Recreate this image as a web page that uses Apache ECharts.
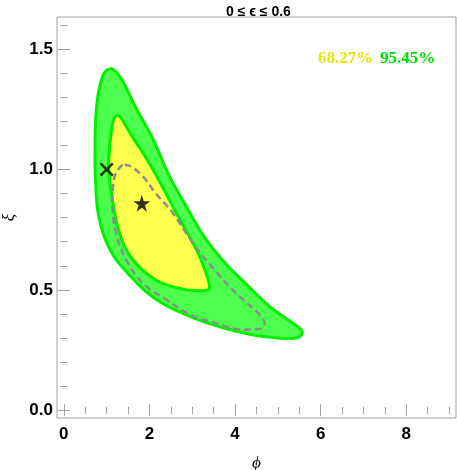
<!DOCTYPE html>
<html>
<head>
<meta charset="utf-8">
<script src="https://cdn.jsdelivr.net/npm/echarts@6/dist/echarts.min.js"></script>
<style>
  html, body { margin: 0; padding: 0; background: #fff; }
  #main { width: 457px; height: 470px; }
</style>
</head>
<body>
<div id="main"></div>
<script>
// ticks
const xMajorTicks = [0, 2, 4, 6, 8];
const xMinorTicks = [0.5, 1, 1.5, 2.5, 3, 3.5, 4.5, 5, 5.5, 6.5, 7, 7.5, 8.5, 9];
const yMajorTicks = [0, 0.5, 1, 1.5];
const yMinorTicks = [0.1, 0.2, 0.3, 0.4, 0.6, 0.7, 0.8, 0.9, 1.1, 1.2, 1.3, 1.4, 1.6];

// contours, [phi, xi]
const contour95 = [
  [1.11, 1.418], [1.22, 1.405], [1.38, 1.365], [1.70, 1.25], [2.09, 1.123],
  [2.43, 0.985], [2.86, 0.846], [3.30, 0.715], [3.75, 0.615], [4.27, 0.522],
  [4.81, 0.43], [5.28, 0.37], [5.56, 0.33], [5.50, 0.305], [5.20, 0.298],
  [4.89, 0.302], [4.34, 0.316], [3.64, 0.347], [2.94, 0.39], [2.16, 0.46],
  [1.54, 0.56], [1.07, 0.67], [0.82, 0.80], [0.74, 0.95], [0.73, 1.10],
  [0.74, 1.20], [0.80, 1.31], [0.91, 1.39], [1.01, 1.413]
];
const contour68 = [
  [1.26, 1.225], [1.33, 1.215], [1.42, 1.19], [1.62, 1.13], [1.88, 1.06],
  [2.16, 0.975], [2.63, 0.818], [3.10, 0.666], [3.29, 0.585], [3.40, 0.52],
  [3.37, 0.50], [3.10, 0.497], [2.78, 0.503], [2.16, 0.54], [1.61, 0.625],
  [1.30, 0.735], [1.14, 0.87], [1.05, 1.0], [1.07, 1.095], [1.11, 1.155],
  [1.15, 1.20], [1.20, 1.218]
];
const contourDashed = [
  [1.42, 1.02], [1.77, 0.985], [2.15, 0.90], [2.55, 0.818], [3.02, 0.693],
  [3.49, 0.589], [4.03, 0.485], [4.50, 0.41], [4.68, 0.37], [4.66, 0.345],
  [4.50, 0.337], [4.03, 0.337], [3.50, 0.365], [3.00, 0.393], [2.40, 0.458],
  [1.85, 0.527], [1.46, 0.624], [1.22, 0.735], [1.13, 0.85], [1.15, 0.93],
  [1.22, 0.985]
];

// markers
const bestFit = [[1.82, 0.86]];
const refPoint = [[1.0, 1.0]];

const levelLabels = ['68.27%', '95.45%'];

const frameColor = '#a0a0a0';
const labelFont = { color: '#000', fontFamily: 'Liberation Sans', fontWeight: 'bold', fontSize: 17 };

function xAxisDef(position, ticks, len, labels) {
  return {
    type: 'value', min: -0.16, max: 9.16, position: position,
    axisLine: { show: false },
    splitLine: { show: false },
    axisTick: { show: true, inside: true, length: len, customValues: ticks,
      lineStyle: { color: frameColor } },
    axisLabel: labels ? Object.assign({ show: true, margin: 8, customValues: ticks,
      formatter: v => String(v) }, labelFont) : { show: false }
  };
}
function yAxisDef(position, ticks, len, labels) {
  return {
    type: 'value', min: -0.032, max: 1.633, position: position,
    axisLine: { show: false },
    splitLine: { show: false },
    axisTick: { show: true, inside: true, length: len, customValues: ticks,
      lineStyle: { color: frameColor } },
    axisLabel: labels ? Object.assign({ show: true, margin: 4, customValues: ticks,
      formatter: v => v.toFixed(1) }, labelFont) : { show: false }
  };
}

function polygonItem(pts, style) {
  return function (params, api) {
    const points = pts.map(p => api.coord(p));
    return { type: 'polygon', shape: { points: points, smooth: 0.4 }, style: style };
  };
}

const xAxes = [
  xAxisDef('bottom', xMajorTicks, 6, true),
  xAxisDef('bottom', xMinorTicks, 3.5, false),
  xAxisDef('top', xMajorTicks, 6, false),
  xAxisDef('top', xMinorTicks, 3.5, false)
];
xAxes[0].name = 'ϕ';
xAxes[0].nameLocation = 'middle';
xAxes[0].nameGap = 37;
xAxes[0].nameTextStyle = { fontFamily: 'Liberation Serif', fontStyle: 'italic', fontSize: 17, color: '#000' };

const yAxes = [
  yAxisDef('left', yMajorTicks, 6, true),
  yAxisDef('left', yMinorTicks, 3.5, false),
  yAxisDef('right', yMajorTicks, 6, false),
  yAxisDef('right', yMinorTicks, 3.5, false)
];
yAxes[0].name = 'ξ';
yAxes[0].nameLocation = 'middle';
yAxes[0].nameGap = 39;
yAxes[0].nameTextStyle = { fontFamily: 'Liberation Serif', fontStyle: 'italic', fontSize: 17, color: '#000' };

const chart = echarts.init(document.getElementById('main'));
chart.setOption({
  animation: false,
  title: {
    text: '0 ≤ ϵ ≤ 0.6', left: 221, top: 0,
    textStyle: { fontFamily: 'Liberation Sans', fontWeight: 'bold', fontSize: 14, color: '#000' }
  },
  grid: { left: 57, right: 1, top: 17, bottom: 52, show: true, outerBoundsMode: 'none',
    containLabel: false, borderColor: frameColor, borderWidth: 1, backgroundColor: 'transparent' },
  xAxis: xAxes,
  yAxis: yAxes,
  graphic: [
    { type: 'text', left: 318, top: 50,
      style: { text: levelLabels[0], fill: '#e6e600', font: 'bold 17px "Liberation Serif"' } },
    { type: 'text', left: 380, top: 50,
      style: { text: levelLabels[1], fill: '#00e000', font: 'bold 17px "Liberation Serif"' } }
  ],
  series: [
    { type: 'custom', data: [[0, 0]], silent: true,
      renderItem: polygonItem(contour95, { fill: '#4dff4d', stroke: '#00f000', lineWidth: 3 }) },
    { type: 'custom', data: [[0, 0]], silent: true,
      renderItem: polygonItem(contour68, { fill: '#ffff4d', stroke: '#00f000', lineWidth: 3 }) },
    { type: 'custom', data: [[0, 0]], silent: true,
      renderItem: polygonItem(contourDashed, { fill: 'none', stroke: '#8c8c8c', lineWidth: 2.5, lineDash: [7, 4] }) },
    { type: 'scatter', data: refPoint, symbolSize: 14,
      symbol: 'path://M0,2.5 L2.5,0 L10,7.5 L17.5,0 L20,2.5 L12.5,10 L20,17.5 L17.5,20 L10,12.5 L2.5,20 L0,17.5 L7.5,10 Z',
      itemStyle: { color: '#000' } },
    { type: 'scatter', data: bestFit, symbolSize: 17,
      symbol: 'path://M50,0 L61,35 L98,35 L68,57 L79,91 L50,70 L21,91 L32,57 L2,35 L39,35 Z',
      itemStyle: { color: '#000' } }
  ]
});
</script>
</body>
</html>
